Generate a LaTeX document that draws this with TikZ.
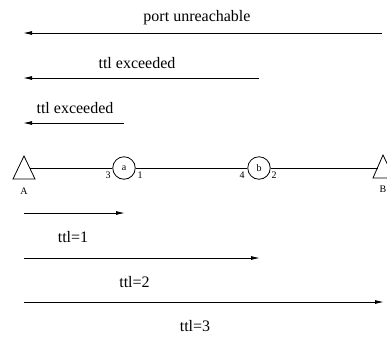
\documentclass[tikz,border=0pt]{standalone}
\usepackage{fontspec}
\setmainfont{Liberation Serif}
\usetikzlibrary{arrows.meta}
\begin{document}
\begin{tikzpicture}[x=1pt,y=1pt,
  msg/.style={line width=0.9pt,-{Latex[length=9pt,width=4pt]}},
  big/.style={font=\fontsize{16}{18}\selectfont,inner sep=0pt},
  small/.style={font=\fontsize{10}{12}\selectfont,inner sep=0pt},
  router/.style={circle,draw,line width=0.8pt,minimum size=22.5pt,inner sep=0pt,font=\fontsize{10}{12}\selectfont},
  link/.style={line width=0.8pt}]
\useasboundingbox (0,0) rectangle (387,-338);
% hosts
\draw[link] (24,-156) -- (35,-179) -- (13,-179) -- cycle;
\draw[link] (383,-155) -- (394,-178) -- (373,-178) -- cycle;
\coordinate (A) at (29.7,-168);
\coordinate (B) at (377.5,-168);
\coordinate (Ax) at (24,-168);
\node[small] (Alab) at (24,-191) {A};
\node[small] (Blab) at (383,-189) {B};
% routers
\node[router] (a) at (124,-168) {a};
\node[router] (b) at (259,-168) {b};
\draw[link] (A) -- (a) -- (b) -- (B);
\node[small] (p3) at (108,-175) {3};
\node[small] (p1) at (140,-175) {1};
\node[small] (p4) at (242,-175) {4};
\node[small] (p2) at (274,-175) {2};
% replies
\coordinate (r1s) at (382,-33);
\coordinate (r1e) at (23,-33);
\coordinate (r2s) at (259,-78);
\coordinate (r2e) at (23,-78);
\coordinate (r3s) at (124,-123);
\coordinate (r3e) at (23,-123);
\draw[msg] (r1s) -- (r1e);
\draw[msg] (r2s) -- (r2e);
\draw[msg] (r3s) -- (r3e);
\node[big] (t1) at (197,-18) {port unreachable};
\node[big] (t2) at (137,-63) {ttl exceeded};
\node[big] (t3) at (75,-108) {ttl exceeded};
% probes
\coordinate (s1s) at (24,-213);
\coordinate (s1e) at (125,-213);
\coordinate (s2s) at (24,-258);
\coordinate (s2e) at (260,-258);
\coordinate (s3s) at (24,-302);
\coordinate (s3e) at (384,-302);
\draw[msg] (s1s) -- (s1e);
\draw[msg] (s2s) -- (s2e);
\draw[msg] (s3s) -- (s3e);
\node[big] (u1) at (73,-237) {ttl=1};
\node[big] (u2) at (134.5,-282) {ttl=2};
\node[big] (u3) at (195,-326) {ttl=3};
\end{tikzpicture}
\end{document}
